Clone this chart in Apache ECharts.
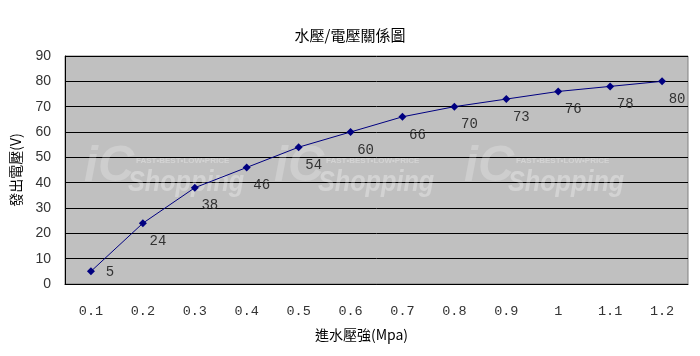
<!DOCTYPE html>
<html><head><meta charset="utf-8">
<script src="https://cdn.jsdelivr.net/npm/echarts@6/dist/echarts.min.js"></script>
<style>html,body{margin:0;padding:0;background:#fff}#c{width:700px;height:356px}</style>
</head><body><div id="c"></div>
<script>
var categories = ['0.1','0.2','0.3','0.4','0.5','0.6','0.7','0.8','0.9','1','1.1','1.2'];
var voltage = [5,24,38,46,54,60,66,70,73,76,78,80];
var titleText = '水壓/電壓關係圖';
var xName = '進水壓強(Mpa)';
var yName = '發出電壓(V)';

var chart = echarts.init(document.getElementById('c'));
var seriesData = voltage.map(function(v, i){
  return i === 0 ? {value: v, label: {offset: [19, 1]}} : v;
});
var wm = [];
[0, 190, 380].forEach(function(dx){
  wm.push({type:'text', z:1, x: 84+dx, y: 142, style:{text:'iC', fill:'rgba(255,255,255,0.22)', font:'italic bold 50px "Liberation Sans"'}});
  wm.push({type:'text', z:1, x: 136+dx, y: 157, style:{text:'FAST•BEST•LOW•PRICE', fill:'rgba(255,255,255,0.3)', font:'bold 8px "Liberation Sans"'}});
  wm.push({type:'text', z:1, x: 128+dx, y: 168, scaleX: 0.84, style:{text:'Shopping', fill:'rgba(255,255,255,0.3)', font:'italic bold 30px "Liberation Sans"'}});
});
chart.setOption({
  animation: false,
  title: {text: titleText, left: 'center', top: 23, textStyle: {fontFamily: '"Noto Sans CJK TC"', fontSize: 15, fontWeight: 'normal', color: '#000'}},
  grid: {left: 65, top: 56, right: 12, bottom: 72, outerBoundsMode: 'none', containLabel: false, show: true, backgroundColor: '#c0c0c0', borderColor: '#808080', borderWidth: 1},
  graphic: wm,
  xAxis: {
    type: 'category', data: categories, boundaryGap: true,
    name: xName, nameLocation: 'middle', nameGap: 44,
    nameTextStyle: {fontFamily: '"Noto Sans CJK TC"', fontSize: 14, color: '#000', padding: [0, 30, 0, 0]},
    axisLine: {lineStyle: {color: '#000', width: 1}},
    axisTick: {inside: true, length: 5, lineStyle: {color: '#000'}},
    axisLabel: {margin: 20, fontFamily: '"Liberation Mono"', fontSize: 13.5, color: '#333'}
  },
  yAxis: {
    type: 'value', min: 0, max: 90, interval: 10,
    name: yName, nameLocation: 'middle', nameGap: 42, nameRotate: 90,
    nameTextStyle: {fontFamily: '"Noto Sans CJK TC"', fontSize: 14, color: '#000'},
    axisLine: {show: true, lineStyle: {color: '#000'}},
    axisTick: {show: false},
    axisLabel: {margin: 14, fontFamily: '"Liberation Sans"', fontSize: 14, color: '#333'},
    splitLine: {lineStyle: {color: '#000', width: 1}}
  },
  series: [{
    type: 'line', data: seriesData, z: 3,
    symbol: 'diamond', symbolSize: 8,
    lineStyle: {color: '#000080', width: 1},
    itemStyle: {color: '#000080'},
    label: {show: true, position: 'inside', offset: [15, 18], fontFamily: '"Liberation Mono"', fontSize: 14, color: '#333'}
  }]
});
</script></body></html>
